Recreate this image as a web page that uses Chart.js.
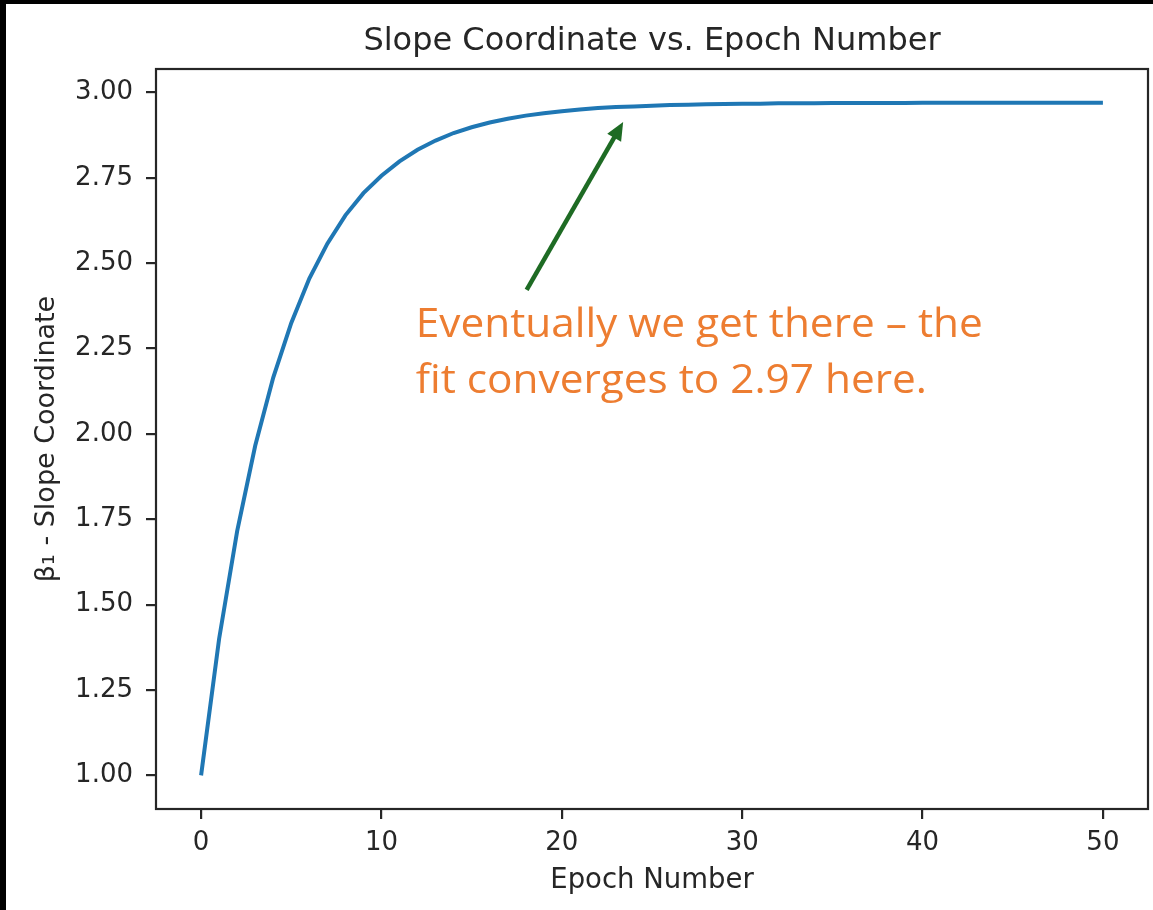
<!DOCTYPE html>
<html>
<head>
<meta charset="utf-8">
<title>Slope Coordinate vs. Epoch Number</title>
<script src="https://cdn.jsdelivr.net/npm/chart.js@4.4.1/dist/chart.umd.min.js"></script>
<style>
  html, body { margin: 0; padding: 0; background: #ffffff; }
  #wrap { position: relative; width: 1153px; height: 910px; }
</style>
</head>
<body>
<div id="wrap"><canvas id="chart" width="1153" height="910"></canvas></div>
<script>
// Epoch index and the fitted slope coefficient after each epoch
const epochs = [0, 1, 2, 3, 4, 5, 6, 7, 8, 9, 10,
                11, 12, 13, 14, 15, 16, 17, 18, 19, 20,
                21, 22, 23, 24, 25, 26, 27, 28, 29, 30,
                31, 32, 33, 34, 35, 36, 37, 38, 39, 40,
                41, 42, 43, 44, 45, 46, 47, 48, 49, 50];
const slopeValues = [1.000, 1.400, 1.715, 1.965, 2.165, 2.325, 2.455, 2.557, 2.640, 2.705, 2.756,
                     2.798, 2.832, 2.859, 2.881, 2.898, 2.912, 2.923, 2.932, 2.939, 2.945,
                     2.950, 2.954, 2.957, 2.959, 2.961, 2.963, 2.964, 2.965, 2.966, 2.967,
                     2.967, 2.968, 2.968, 2.968, 2.969, 2.969, 2.969, 2.969, 2.969, 2.970,
                     2.970, 2.970, 2.970, 2.970, 2.970, 2.970, 2.970, 2.970, 2.970, 2.970];
const xTickValues = [0, 10, 20, 30, 40, 50];
const yTickValues = [1.00, 1.25, 1.50, 1.75, 2.00, 2.25, 2.50, 2.75, 3.00];

// Note text and where its arrow starts / ends (in data units)
const noteLines = ['Eventually we get there \u2013 the', 'fit converges to 2.97 here.'];
const noteAnchor = { x: 11.9, y: 2.285 };
const arrowTail = { x: 18.05, y: 2.422 };
const arrowHead = { x: 23.4, y: 2.913 };

const TEXT = '#262626';
const AXIS = '#262626';
const FONT = "'DejaVu Sans', sans-serif";

const points = epochs.map((e, i) => ({ x: e, y: slopeValues[i] }));

// Full box around the plotting area plus the dark strips at the page edges
const framePlugin = {
  id: 'frame',
  beforeDraw(chart) {
    const { ctx, width, height } = chart;
    ctx.save();
    ctx.fillStyle = '#ffffff';
    ctx.fillRect(0, 0, width, height);
    ctx.fillStyle = '#000000';
    ctx.fillRect(0, 0, width, 4);
    ctx.fillRect(0, 0, 6, height);
    ctx.restore();
  },
  afterDatasetsDraw(chart) {
    const { ctx, chartArea: a } = chart;
    ctx.save();
    ctx.strokeStyle = AXIS;
    ctx.lineWidth = 2.2;
    ctx.strokeRect(a.left, a.top, a.right - a.left, a.bottom - a.top);
    ctx.restore();
  }
};

// Orange note with a green arrow pointing at the plateau
const notePlugin = {
  id: 'note',
  afterDraw(chart) {
    const { ctx, scales: { x, y } } = chart;
    const tx = x.getPixelForValue(arrowTail.x), ty = y.getPixelForValue(arrowTail.y);
    const hx = x.getPixelForValue(arrowHead.x), hy = y.getPixelForValue(arrowHead.y);
    const ang = Math.atan2(hy - ty, hx - tx);
    const headLen = 18, headHalf = 8;
    ctx.save();
    ctx.strokeStyle = '#1e6b24';
    ctx.fillStyle = '#1e6b24';
    ctx.lineWidth = 4.5;
    ctx.beginPath();
    ctx.moveTo(tx, ty);
    ctx.lineTo(hx - Math.cos(ang) * (headLen - 2), hy - Math.sin(ang) * (headLen - 2));
    ctx.stroke();
    ctx.beginPath();
    ctx.moveTo(hx, hy);
    ctx.lineTo(hx - Math.cos(ang) * headLen - Math.sin(ang) * headHalf,
               hy - Math.sin(ang) * headLen + Math.cos(ang) * headHalf);
    ctx.lineTo(hx - Math.cos(ang) * headLen + Math.sin(ang) * headHalf,
               hy - Math.sin(ang) * headLen - Math.cos(ang) * headHalf);
    ctx.closePath();
    ctx.fill();

    ctx.fillStyle = '#ed7d31';
    ctx.font = "40px 'Open Sans', sans-serif";
    ctx.textAlign = 'left';
    ctx.textBaseline = 'alphabetic';
    const nx = x.getPixelForValue(noteAnchor.x);
    const ny = y.getPixelForValue(noteAnchor.y);
    // squeeze the note to its line length
    const w = ctx.measureText(noteLines[0]).width;
    const sx = 567 / w;
    noteLines.forEach((line, i) => {
      ctx.save();
      ctx.translate(nx, ny + i * 56);
      ctx.scale(sx, 1);
      ctx.fillText(line, 0, 0);
      ctx.restore();
    });
    ctx.restore();
  }
};

new Chart(document.getElementById('chart'), {
  type: 'line',
  data: {
    datasets: [{
      data: points,
      borderColor: '#1f77b4',
      borderWidth: 4,
      pointRadius: 0,
      tension: 0,
      fill: false
    }]
  },
  options: {
    responsive: false,
    animation: false,
    layout: { padding: { left: 0, right: 5, top: 0, bottom: 0 } },
    plugins: {
      legend: { display: false },
      tooltip: { enabled: false },
      title: {
        display: true,
        fullSize: false,
        text: 'Slope Coordinate vs. Epoch Number',
        color: TEXT,
        font: { family: FONT, size: 32, weight: 'normal' },
        padding: { top: 22, bottom: 8.6 }
      }
    },
    scales: {
      x: {
        type: 'linear',
        min: -2.5,
        max: 52.5,
        afterFit(scale) { scale.height = 101; },
        afterBuildTicks(scale) { scale.ticks = xTickValues.map(v => ({ value: v })); },
        ticks: {
          color: TEXT,
          font: { family: FONT, size: 26 },
          padding: 9,
          maxRotation: 0,
          callback: v => String(v)
        },
        grid: {
          display: true,
          drawOnChartArea: false,
          drawTicks: true,
          tickLength: 10,
          color: AXIS,
          lineWidth: 2.2
        },
        border: { display: false },
        title: {
          display: true,
          text: 'Epoch Number',
          color: TEXT,
          font: { family: FONT, size: 27.5 },
          padding: { top: 0, bottom: 13 }
        }
      },
      y: {
        type: 'linear',
        min: 0.9015,
        max: 3.0685,
        afterFit(scale) { scale.width = 156; },
        afterBuildTicks(scale) { scale.ticks = yTickValues.map(v => ({ value: v })); },
        ticks: {
          color: TEXT,
          font: { family: FONT, size: 26 },
          padding: 13,
          callback: v => Number(v).toFixed(2)
        },
        grid: {
          display: true,
          drawOnChartArea: false,
          drawTicks: true,
          tickLength: 10,
          color: AXIS,
          lineWidth: 2.2
        },
        border: { display: false },
        title: {
          display: true,
          text: '\u03b2\u2081 - Slope Coordinate',
          color: TEXT,
          font: { family: FONT, size: 27 },
          padding: { top: 31, bottom: 0 }
        }
      }
    }
  },
  plugins: [framePlugin, notePlugin]
});
</script>
</body>
</html>
